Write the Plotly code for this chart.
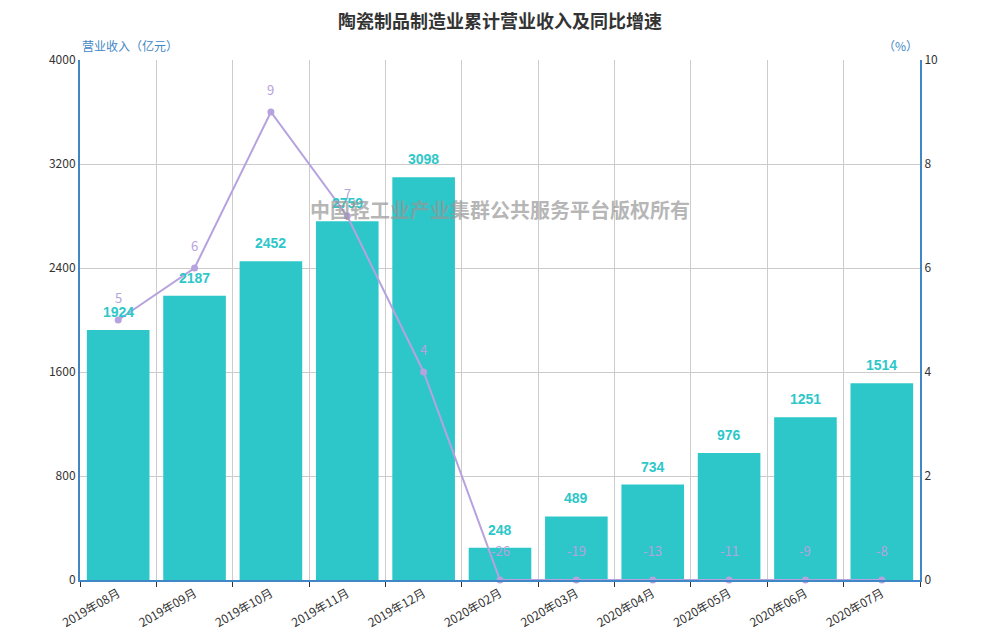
import plotly.graph_objects as go

months = ["2019年08月", "2019年09月", "2019年10月", "2019年11月", "2019年12月",
          "2020年02月", "2020年03月", "2020年04月", "2020年05月", "2020年06月", "2020年07月"]
revenue = [1924, 2187, 2452, 2759, 3098, 248, 489, 734, 976, 1251, 1514]
growth = [5, 6, 9, 7, 4, -26, -19, -13, -11, -9, -8]

teal = "#2ec7c9"
purple = "#b6a2de"
blue = "#3f87c6"
font = "Noto Sans CJK SC, Noto Sans, sans-serif"

# right axis starts at 0, negative growth sits on the floor like the original
growth_plot = [max(g, 0) for g in growth]

fig = go.Figure()
fig.add_trace(go.Bar(
    x=months, y=revenue, marker=dict(color=teal, line=dict(width=0)),
    name="营业收入", hoverinfo="x+y",
))
fig.add_trace(go.Scatter(
    x=months, y=growth_plot, yaxis="y2", mode="lines+markers",
    line=dict(color=purple, width=2), marker=dict(color=purple, size=7),
    cliponaxis=False, name="同比增速",
))

annotations = []
for m, v in zip(months, revenue):
    annotations.append(dict(
        x=m, y=v, yref="y", text=str(v), showarrow=False, yanchor="bottom", yshift=8,
        font=dict(color=teal, size=14, family="Liberation Sans, Arial", weight="bold"),
    ))
for m, g, gp in zip(months, growth, growth_plot):
    annotations.append(dict(
        x=m, y=gp, yref="y2", text=str(g), showarrow=False, yanchor="bottom",
        yshift=11 if g >= 0 else 18,
        font=dict(color=purple, size=13, family=font),
    ))
annotations += [
    dict(xref="paper", yref="paper", x=0, y=1, yanchor="bottom", yshift=4, text="营业收入（亿元）",
         showarrow=False, font=dict(color=blue, size=12, family=font)),
    dict(xref="paper", yref="paper", x=1, y=1, yanchor="bottom", yshift=4, text="（%）",
         showarrow=False, font=dict(color=blue, size=12, family=font)),
    dict(xref="paper", yref="paper", x=0.5, y=0.745, text="中国轻工业产业集群公共服务平台版权所有",
         showarrow=False, font=dict(color="rgba(150,150,150,0.7)", size=20, family=font, weight="bold")),
]

fig.update_layout(
    title=dict(text="陶瓷制品制造业累计营业收入及同比增速", x=0.492, y=0.988, yanchor="top",
               pad=dict(t=0), font=dict(size=18, color="#333", family=font, weight="bold")),
    width=1000, height=640,
    margin=dict(l=72, r=88, t=52, b=68),
    plot_bgcolor="white", paper_bgcolor="white",
    showlegend=False, bargap=0.18,
    font=dict(family=font, color="#333", size=12),
    xaxis=dict(
        range=[-0.5, len(months) - 0.5],
        tickson="boundaries", showgrid=True, gridcolor="#ccc", gridwidth=1,
        showline=True, linecolor=blue, linewidth=2, ticks="outside", tickcolor="#333",
        ticklen=5, tickangle=-30, tickfont=dict(size=12, color="#333"),
    ),
    yaxis=dict(
        range=[0, 4000], tickvals=[0, 800, 1600, 2400, 3200, 4000], showgrid=True,
        gridcolor="#ccc", showline=True, linecolor=blue, linewidth=2, zeroline=False,
        ticks="", tickfont=dict(size=12, color="#333"),
    ),
    yaxis2=dict(
        overlaying="y", side="right", range=[0, 10], tickvals=[0, 2, 4, 6, 8, 10],
        showgrid=False, showline=True, linecolor=blue, linewidth=2, zeroline=False,
        ticks="", tickfont=dict(size=12, color="#333"),
    ),
    annotations=annotations,
)

fig.write_html("out.html")
